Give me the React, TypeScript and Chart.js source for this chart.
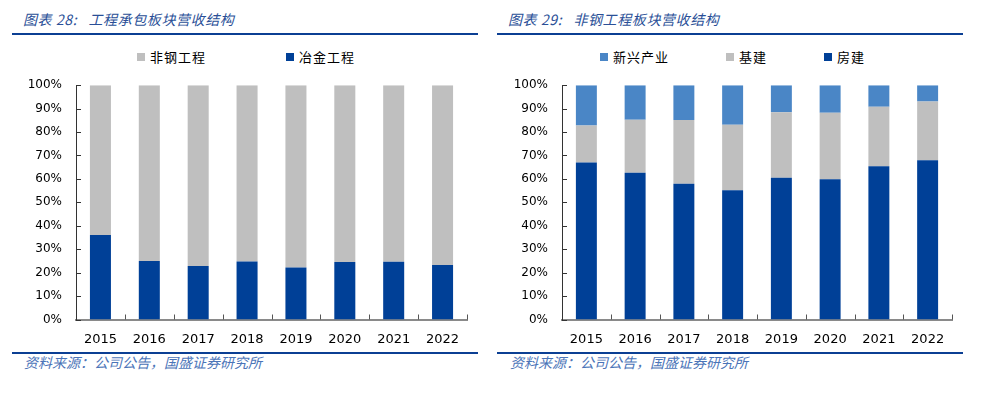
import React, { useEffect, useRef } from "react";
import { Chart, registerables } from "chart.js";

Chart.register(...registerables);

const years = ["2015", "2016", "2017", "2018", "2019", "2020", "2021", "2022"];
const yTickValues = [0, 10, 20, 30, 40, 50, 60, 70, 80, 90, 100];

// Chart 28
const metallurgy = [36.1, 25.0, 22.8, 24.8, 22.2, 24.5, 24.6, 23.3]; // 冶金工程
const nonSteel = [63.9, 75.0, 77.2, 75.2, 77.8, 75.5, 75.4, 76.7]; // 非钢工程

// Chart 29
const housing = [67.0, 62.6, 57.9, 55.2, 60.5, 59.9, 65.4, 68.0]; // 房建
const infra = [15.8, 22.7, 27.3, 27.9, 28.0, 28.3, 25.4, 25.0]; // 基建
const emerging = [17.2, 14.7, 14.8, 16.9, 11.5, 11.8, 9.2, 7.0]; // 新兴产业

const DARK_BLUE = "#004097";
const GRAY = "#bfbfbf";
const LIGHT_BLUE = "#4a86c6";
const LINE_BLUE = "#0b3f93";
const TITLE_BLUE = "#2a4f97";
const SOURCE_BLUE = "#4b74b8";

const FONT_NUM = '"DejaVu Sans", "Noto Sans CJK SC", sans-serif';
const FONT_CJK = '"Noto Sans CJK SC", "DejaVu Sans", sans-serif';

interface DS {
  label: string;
  data: number[];
  color: string;
}

const innerTicks = {
  id: "innerTicks",
  afterDraw(chart: any) {
    const ctx = chart.ctx;
    const x = chart.scales.x;
    const y = chart.scales.y;
    ctx.save();
    ctx.lineWidth = 1;
    ctx.strokeStyle = "#333333";
    y.ticks.forEach((_t: any, i: number) => {
      const py = Math.round(y.getPixelForTick(i)) + 0.5;
      ctx.beginPath();
      ctx.moveTo(x.left, py);
      ctx.lineTo(x.left + 5, py);
      ctx.stroke();
    });
    ctx.strokeStyle = "#555555";
    const n = chart.data.labels.length;
    const step = (x.right - x.left) / n;
    for (let i = 1; i <= n; i++) {
      const px = Math.round(x.left + i * step) + 0.5;
      ctx.beginPath();
      ctx.moveTo(px, y.bottom);
      ctx.lineTo(px, y.bottom - 5);
      ctx.stroke();
    }
    ctx.restore();
  },
};

function BarPanel(props: {
  datasets: DS[];
  yAxisWidth: number;
  rightPad: number;
}) {
  const ref = useRef<HTMLCanvasElement | null>(null);
  useEffect(() => {
    if (!ref.current) return;
    const chart = new Chart(ref.current, {
      type: "bar",
      data: {
        labels: years,
        datasets: props.datasets.map((d) => ({
          label: d.label,
          data: d.data,
          backgroundColor: d.color,
          borderWidth: 0,
          barPercentage: 0.43,
          categoryPercentage: 1,
        })),
      },
      options: {
        animation: false,
        responsive: false,
        maintainAspectRatio: false,
        layout: { padding: { left: 0, right: props.rightPad, top: 10, bottom: 0 } },
        plugins: {
          legend: { display: false },
          tooltip: { enabled: false },
        },
        scales: {
          x: {
            stacked: true,
            grid: { display: false, drawTicks: false },
            border: { display: true, color: "#8a8a8a", width: 2 },
            ticks: {
              color: "#000000",
              padding: 12,
              font: { family: FONT_NUM, size: 13 },
            },
            afterFit(scale: any) {
              scale.height = 30.5;
            },
          },
          y: {
            stacked: true,
            min: 0,
            max: 100,
            grid: { display: false, drawTicks: false },
            border: { display: true, color: "#333333", width: 1 },
            afterBuildTicks(scale: any) {
              scale.ticks = yTickValues.map((v) => ({ value: v }));
            },
            ticks: {
              color: "#000000",
              padding: 14,
              font: { family: FONT_NUM, size: 12 },
              callback: (v: any) => v + "%",
            },
            afterFit(scale: any) {
              scale.width = props.yAxisWidth;
            },
          },
        },
      },
      plugins: [innerTicks],
    });
    return () => chart.destroy();
  }, []);
  return (
    <canvas
      ref={ref}
      width={491}
      height={286}
      style={{ position: "absolute", left: 0, top: 64, width: 491, height: 286 }}
    />
  );
}

function Panel(props: {
  left: number;
  title: string;
  datasets: DS[];
  legendOrder: DS[];
  legendLeft: number;
  legendGap: number;
  yAxisWidth: number;
  rightPad: number;
}) {
  return (
    <div
      style={{
        position: "absolute",
        left: props.left,
        top: 0,
        width: 491,
        height: 394,
      }}
    >
      <div
        style={{
          position: "absolute",
          left: props.left === 0 ? 23 : 17,
          top: 9,
          fontFamily: FONT_CJK,
          fontStyle: "italic",
          fontSize: 14,
          lineHeight: "20px",
          color: TITLE_BLUE,
          whiteSpace: "pre",
          letterSpacing: 0.6,
        }}
      >
        {props.title}
      </div>
      <div
        style={{
          position: "absolute",
          left: props.left === 0 ? 12 : 6,
          top: 33,
          width: 466,
          height: 2,
          background: LINE_BLUE,
        }}
      />
      <div
        style={{
          position: "absolute",
          left: props.legendLeft,
          top: 48,
          height: 18,
          display: "flex",
          alignItems: "center",
          gap: props.legendGap,
          fontFamily: FONT_CJK,
          fontSize: 13,
          letterSpacing: 1,
          color: "#000000",
          whiteSpace: "nowrap",
        }}
      >
        {props.legendOrder.map((d) => (
          <div key={d.label} style={{ display: "flex", alignItems: "center" }}>
            <span
              style={{
                display: "inline-block",
                width: 8,
                height: 8,
                background: d.color,
                marginRight: 5,
              }}
            />
            <span style={{ lineHeight: "18px" }}>{d.label}</span>
          </div>
        ))}
      </div>
      <BarPanel
        datasets={props.datasets}
        yAxisWidth={props.yAxisWidth}
        rightPad={props.rightPad}
      />
      <div
        style={{
          position: "absolute",
          left: props.left === 0 ? 12 : 6,
          top: 352,
          width: 466,
          height: 2,
          background: LINE_BLUE,
        }}
      />
      <div
        style={{
          position: "absolute",
          left: props.left === 0 ? 24 : 19,
          top: 353,
          fontFamily: FONT_CJK,
          fontStyle: "italic",
          fontSize: 14,
          lineHeight: "18px",
          color: SOURCE_BLUE,
          whiteSpace: "nowrap",
        }}
      >
        资料来源：公司公告，国盛证券研究所
      </div>
    </div>
  );
}

export default function App() {
  const left: DS[] = [
    { label: "冶金工程", data: metallurgy, color: DARK_BLUE },
    { label: "非钢工程", data: nonSteel, color: GRAY },
  ];
  const right: DS[] = [
    { label: "房建", data: housing, color: DARK_BLUE },
    { label: "基建", data: infra, color: GRAY },
    { label: "新兴产业", data: emerging, color: LIGHT_BLUE },
  ];
  return (
    <div
      style={{
        position: "absolute",
        left: 0,
        top: 0,
        width: 982,
        height: 394,
        background: "#ffffff",
        overflow: "hidden",
      }}
    >
      <Panel
        left={0}
        title={"图表 28:   工程承包板块营收结构"}
        datasets={left}
        legendOrder={[...left].reverse()}
        legendLeft={137}
        legendGap={80}
        yAxisWidth={76}
        rightPad={24}
      />
      <Panel
        left={491}
        title={"图表 29:   非钢工程板块营收结构"}
        datasets={right}
        legendOrder={[...right].reverse()}
        legendLeft={109}
        legendGap={57}
        yAxisWidth={71}
        rightPad={30}
      />
    </div>
  );
}
